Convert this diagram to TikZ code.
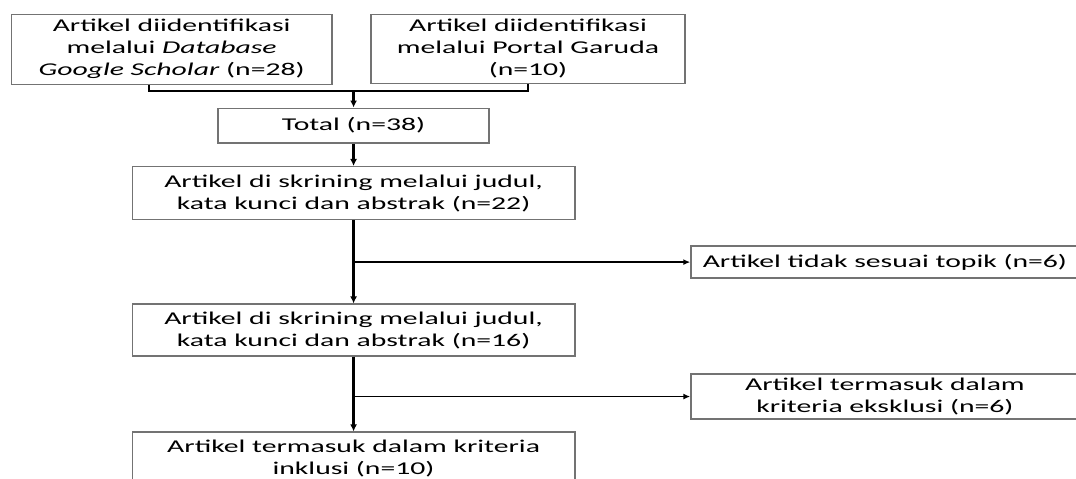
\documentclass[tikz,border=0pt]{standalone}
\usepackage{fontspec}
\setmainfont{Carlito}[FakeStretch=1.65]
\usepackage{tikz}
\usetikzlibrary{arrows.meta}

\tikzset{
  box/.style={draw=black!55, line width=1.3pt, align=center, inner sep=0pt,
    font=\fontsize{18}{22}\selectfont},
  flow/.style={line width=2.2pt, -{Latex[length=7pt,width=7pt]}},
  branch/.style={line width=1.4pt, -{Latex[length=7pt,width=6pt]}},
  joinline/.style={line width=2pt}
}

\begin{document}
\begin{tikzpicture}[scale=1.000000,x=1pt,y=-1pt]
\filldraw[color=white] (0.000000, 0.000000) rectangle (1076.000000, 478.000000);
\useasboundingbox (0.000000, 0.000000) rectangle (1076.000000, 478.000000);
\clip (0.000000, 0.000000) rectangle (1076.000000, 478.000000);
% Drawing boxes
% Row 1: sources
\node[box, minimum width=321pt, minimum height=70pt] (idA) at (171.500000, 49.000000)
  {Artikel diidentifikasi\\ melalui \textit{Database}\\ \textit{Google Scholar} (n=28)};
\node[box, minimum width=314pt, minimum height=69pt] (idB) at (528.000000, 48.500000)
  {Artikel diidentifikasi\\ melalui Portal Garuda\\ (n=10)};
% Row 2: total
\node[box, minimum width=271pt, minimum height=35pt] (total) at (353.500000, 125.500000)
  {Total (n=38)};
% Row 3: first screening
\node[box, minimum width=443pt, minimum height=53pt] (skr1) at (353.500000, 193.000000)
  {Artikel di skrining melalui judul,\\ kata kunci dan abstrak (n=22)};
\node[box, minimum width=388pt, minimum height=32pt] (tidak) at (885.000000, 262.000000)
  {Artikel tidak sesuai topik (n=6)};
% Row 4: second screening
\node[box, minimum width=443pt, minimum height=52pt] (skr2) at (353.500000, 330.000000)
  {Artikel di skrining melalui judul,\\ kata kunci dan abstrak (n=16)};
\node[box, minimum width=388pt, minimum height=45pt] (eks) at (885.000000, 396.500000)
  {Artikel termasuk dalam\\ kriteria eksklusi (n=6)};
% Row 5: included
\node[box, minimum width=443pt, minimum height=52pt] (inkl) at (353.500000, 458.000000)
  {Artikel termasuk dalam kriteria\\ inklusi (n=10)};
% Done with boxes; drawing connectors
\coordinate (jA) at (149.000000, 91.000000);
\coordinate (jB) at (528.000000, 91.000000);
\draw[joinline] (idA.south -| jA) -- (jA) -- (jB) -- (idB.south -| jB);
\draw[flow] (total.north |- jA) -- (total.north);
\draw[flow] (total) -- (skr1);
\draw[flow] (skr1) -- (skr2);
\draw[branch] (skr1.south |- tidak.west) -- (tidak.west);
\draw[flow] (skr2) -- (inkl);
\draw[branch] (skr2.south |- eks.west) -- (eks.west);
% Done with connectors
\end{tikzpicture}
\end{document}
